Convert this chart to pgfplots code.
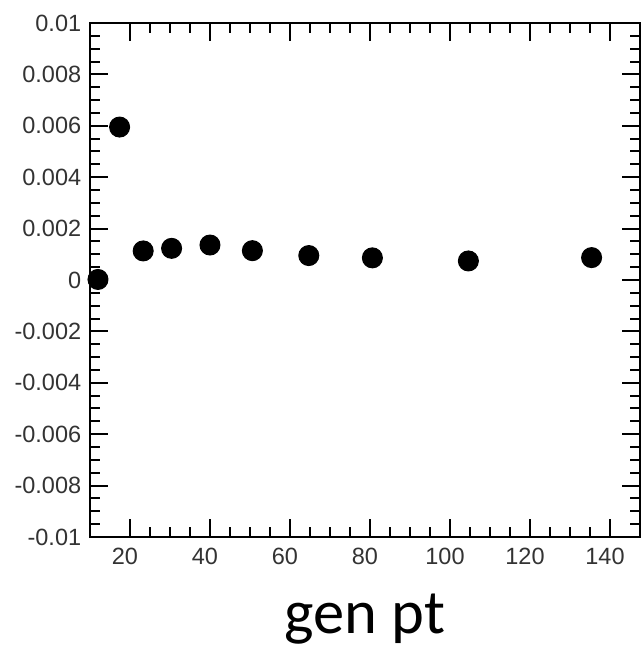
\documentclass[border=0pt]{standalone}
\usepackage{fontspec}
\setmainfont{Liberation Sans}
\newfontfamily\carlito{Carlito}
\usepackage{pgfplots}
\pgfplotsset{compat=1.18}

\begin{document}
\begin{tikzpicture}
\begin{axis}[
    scale only axis,
    width=220pt,
    height=205.6pt,
    xmin=10, xmax=147.5,
    ymin=-0.01, ymax=0.01,
    xtick={20,40,...,140},
    minor x tick num=3,
    ytick={-0.01,-0.008,-0.006,-0.004,-0.002,0,0.002,0.004,0.006,0.008,0.01},
    yticklabels={-0.01,-0.008,-0.006,-0.004,-0.002,0,0.002,0.004,0.006,0.008,0.01},
    minor y tick num=3,
    scaled y ticks=false,
    tick align=inside,
    major tick length=7.2pt,
    minor tick length=4pt,
    axis line style={line width=0.9pt},
    every tick/.style={black, line width=0.8pt},
    tick label style={font=\fontsize{9.4}{11}\selectfont, text=black!80},
    /pgf/number format/assume math mode=true,
    xticklabel style={xshift=-2pt, yshift=-1pt},
    xlabel={gen pt},
    xlabel style={font=\carlito\fontsize{25}{30}\selectfont, yshift=-4.8pt},
    clip=false,
]
\addplot[only marks, mark=*, mark size=4pt, black] coordinates {
    (12,0.00002) (17.4,0.00595) (23.3,0.00113) (30.4,0.00123) (40,0.00136)
    (50.6,0.00114) (64.7,0.00095) (80.6,0.00086) (104.6,0.00074) (135.4,0.00087)
};
\coordinate (bbsw) at (rel axis cs:-0.1636,-0.216);
\coordinate (bbne) at (rel axis cs:1.0018,1.0447);
\end{axis}
\pgfresetboundingbox
\path (bbsw) rectangle (bbne);
\end{tikzpicture}
\end{document}
